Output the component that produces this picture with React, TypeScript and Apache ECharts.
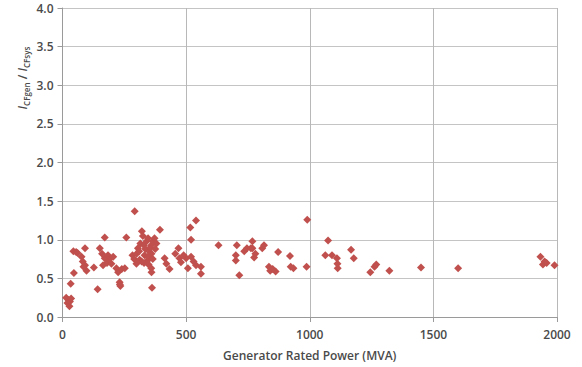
import React, { useEffect, useRef } from "react";
import * as echarts from "echarts";

const powerMVA: number[] = [
  15, 20, 25, 28, 30, 35, 33, 46, 44, 55, 61, 77, 82, 91, 91, 97, 85,
  127, 142, 151, 160, 171, 171, 184, 164, 180, 198, 190, 205, 218, 225, 231, 234, 232, 240, 252, 258,
  292, 283, 290, 299, 305, 300, 310, 312, 315, 321, 325, 329, 332, 335, 340, 346, 350, 352, 355, 359, 360, 365, 372, 375, 359, 360, 362, 380, 394, 320, 330, 340, 345, 348, 365,
  413, 420, 433, 456, 469, 473, 479, 500, 507, 517, 520, 520, 540, 540, 560, 560, 490, 530,
  631, 701, 705, 701, 715, 735, 746, 762, 768, 768, 775, 808, 815, 835, 840, 862, 872, 920, 923, 934, 780, 850,
  990, 987, 1074, 1063, 1090, 1110, 1112, 1113, 1167, 1178, 1245, 1262, 1269, 1322, 1450, 1600, 1933, 1943, 1958, 1990, 1950,
];

const currentRatio: number[] = [
  0.25, 0.18, 0.22, 0.14, 0.2, 0.24, 0.43, 0.57, 0.85, 0.84, 0.83, 0.78, 0.72, 0.89, 0.67, 0.6, 0.65,
  0.64, 0.36, 0.89, 0.82, 1.03, 0.76, 0.8, 0.67, 0.7, 0.69, 0.75, 0.78, 0.63, 0.58, 0.45, 0.4, 0.42, 0.62, 0.63, 1.03,
  1.37, 0.8, 0.75, 0.69, 0.89, 0.82, 0.85, 0.74, 0.95, 1.11, 1.05, 0.93, 0.8, 0.88, 0.98, 1.02, 0.85, 0.76, 0.9, 0.93, 0.82, 0.98, 1.02, 0.88, 0.63, 0.58, 0.38, 0.95, 1.13, 0.72, 0.7, 0.72, 0.78, 0.68, 0.75,
  0.76, 0.69, 0.62, 0.82, 0.89, 0.76, 0.71, 0.76, 0.63, 1.16, 1.0, 0.78, 1.25, 0.67, 0.65, 0.56, 0.8, 0.72,
  0.93, 0.8, 0.93, 0.73, 0.54, 0.85, 0.89, 0.89, 0.98, 0.89, 0.77, 0.89, 0.93, 0.65, 0.6, 0.59, 0.84, 0.79, 0.65, 0.63, 0.82, 0.62,
  1.26, 0.65, 0.99, 0.8, 0.8, 0.76, 0.69, 0.63, 0.87, 0.76, 0.58, 0.65, 0.68, 0.6, 0.64, 0.63, 0.78, 0.68, 0.7, 0.67, 0.72,
];

const xAxisTitle = "Generator Rated Power (MVA)";

export default function App() {
  const ref = useRef<HTMLDivElement>(null);
  useEffect(() => {
    if (!ref.current) return;
    const chart = echarts.init(ref.current, null, { renderer: "svg" });
    const points = powerMVA.map((x, i) => [x, currentRatio[i]]);
    const font = "'Open Sans', 'Liberation Sans', sans-serif";
    chart.setOption({
      animation: false,
      backgroundColor: "#ffffff",
      grid: { left: 62.5, right: 25, top: 8, bottom: 50, containLabel: false },
      xAxis: {
        type: "value",
        min: 0,
        max: 2000,
        interval: 500,
        name: xAxisTitle,
        nameLocation: "middle",
        nameGap: 32,
        nameTextStyle: { fontFamily: font, fontSize: 12, fontWeight: 600, color: "#4a4a4a" },
        axisLine: { show: true, lineStyle: { color: "#9a9a9a", width: 1 } },
        axisTick: { show: true, length: 5, lineStyle: { color: "#9a9a9a" } },
        axisLabel: {
          fontFamily: font,
          fontSize: 12,
          fontWeight: 600,
          color: "#4a4a4a",
          margin: 11,
          formatter: (v: number) => String(v),
        },
        splitLine: { show: true, lineStyle: { color: "#b8b8b8", width: 1 } },
      },
      yAxis: {
        type: "value",
        min: 0,
        max: 4,
        interval: 0.5,
        axisLine: { show: true, lineStyle: { color: "#9a9a9a", width: 1 } },
        axisTick: { show: true, length: 5, lineStyle: { color: "#9a9a9a" } },
        axisLabel: {
          fontFamily: font,
          fontSize: 12,
          fontWeight: 600,
          color: "#4a4a4a",
          margin: 9,
          formatter: (v: number) => v.toFixed(1),
        },
        splitLine: { show: true, lineStyle: { color: "#c4c4c4", width: 1 } },
      },
      graphic: [
        {
          type: "text",
          x: 22,
          y: 78,
          rotation: Math.PI / 2,
          style: {
            text: "{i|I}{s|CFgen}{n| / }{i|I}{s|CFsys}",
            align: "center",
            verticalAlign: "middle",
            fill: "#4a4a4a",
            rich: {
              i: { fontFamily: font, fontSize: 12, fontStyle: "italic", fontWeight: 600, fill: "#4a4a4a", lineHeight: 16, verticalAlign: "middle" },
              s: { fontFamily: font, fontSize: 8, fontWeight: 600, fill: "#4a4a4a", lineHeight: 16, verticalAlign: "bottom", padding: [6, 0, 0, 0] },
              n: { fontFamily: font, fontSize: 12, fontWeight: 600, fill: "#4a4a4a", lineHeight: 16, verticalAlign: "middle" },
            },
          },
        },
      ],
      series: [
        {
          type: "scatter",
          data: points,
          symbol: "diamond",
          symbolSize: 8,
          itemStyle: { color: "#c0504d", opacity: 1 },
        },
      ],
    });
    return () => chart.dispose();
  }, []);
  return (
    <div
      ref={ref}
      style={{ position: "fixed", left: 0, top: 0, width: 582, height: 367, background: "#fff" }}
    />
  );
}
